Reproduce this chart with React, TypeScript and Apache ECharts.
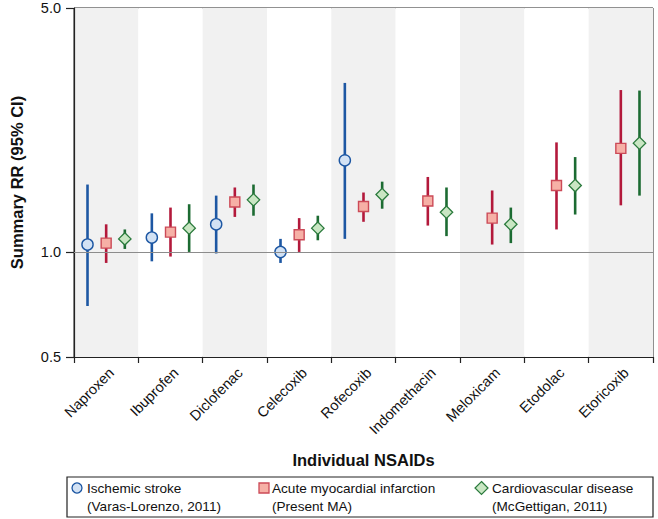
import React, { useEffect, useRef } from "react";
import * as echarts from "echarts";

const categories = ["Naproxen", "Ibuprofen", "Diclofenac", "Celecoxib", "Rofecoxib", "Indomethacin", "Meloxicam", "Etodolac", "Etoricoxib"];
const yTicks = [0.5, 1.0, 5.0];

const strokeRR = [1.05, 1.10, 1.20, 1.00, 1.83, null, null, null, null];
const strokeLow = [0.70, 0.94, 0.99, 0.93, 1.09, null, null, null, null];
const strokeHigh = [1.56, 1.29, 1.45, 1.09, 3.05, null, null, null, null];

const amiRR = [1.06, 1.14, 1.39, 1.12, 1.35, 1.40, 1.25, 1.55, 1.98];
const amiLow = [0.93, 0.97, 1.26, 1.00, 1.22, 1.19, 1.05, 1.16, 1.36];
const amiHigh = [1.20, 1.34, 1.53, 1.25, 1.48, 1.64, 1.50, 2.06, 2.91];

const cvdRR = [1.09, 1.17, 1.41, 1.17, 1.46, 1.30, 1.20, 1.55, 2.05];
const cvdLow = [1.02, 1.00, 1.27, 1.08, 1.33, 1.11, 1.06, 1.28, 1.45];
const cvdHigh = [1.16, 1.37, 1.56, 1.27, 1.59, 1.53, 1.34, 1.87, 2.90];

const FONT = "Liberation Sans, Arial, sans-serif";

type Shape = "circle" | "square" | "diamond";

function buildData(rr: (number | null)[], lo: (number | null)[], hi: (number | null)[]) {
  const out: number[][] = [];
  rr.forEach((v, i) => {
    if (v != null && lo[i] != null && hi[i] != null) out.push([i, v, lo[i] as number, hi[i] as number]);
  });
  return out;
}

function makeSeries(name: string, rr: any[], lo: any[], hi: any[], offset: number, shape: Shape, lineColor: string, fill: string, border: string) {
  return {
    type: "custom",
    name,
    z: 3,
    encode: { x: 0, y: 1 },
    data: buildData(rr, lo, hi),
    renderItem: (params: any, api: any) => {
      const idx = api.value(0);
      const c = api.coord([idx, api.value(1)]);
      const l = api.coord([idx, api.value(2)]);
      const h = api.coord([idx, api.value(3)]);
      const bw = api.size([1, 0])[0];
      const x = c[0] + offset * bw;
      const children: any[] = [
        {
          type: "line",
          shape: { x1: x, y1: l[1], x2: x, y2: h[1] },
          style: { stroke: lineColor, lineWidth: 2.6 },
        },
      ];
      if (shape === "circle") {
        children.push({ type: "circle", shape: { cx: x, cy: c[1], r: 5.6 }, style: { fill, stroke: border, lineWidth: 1.4 } });
      } else if (shape === "square") {
        children.push({ type: "rect", shape: { x: x - 5, y: c[1] - 5, width: 10, height: 10 }, style: { fill, stroke: border, lineWidth: 1.4 } });
      } else {
        const r = 6.2;
        children.push({
          type: "polygon",
          shape: { points: [[x, c[1] - r], [x + r, c[1]], [x, c[1] + r], [x - r, c[1]]] },
          style: { fill, stroke: border, lineWidth: 1.3 },
        });
      }
      return { type: "group", children };
    },
  };
}

export default function App() {
  const ref = useRef<HTMLDivElement>(null);
  useEffect(() => {
    if (!ref.current) return;
    const chart = echarts.init(ref.current, null, { renderer: "svg" });
    const blue = "#1d57a3", red = "#b3193b", green = "#1c6b32";
    const legendY = 488;
    const legendText = { fontFamily: FONT, fontSize: 13.6, fill: "#111", lineHeight: 18 };
    chart.setOption({
      animation: false,
      backgroundColor: "#ffffff",
      grid: { left: 67, right: 5, top: 8, bottom: 162, show: true, borderColor: "#222", borderWidth: 1, backgroundColor: "transparent" },
      xAxis: {
        type: "category",
        data: categories,
        boundaryGap: true,
        axisLine: { lineStyle: { color: "#222", width: 1.2 } },
        axisTick: { show: true, length: 6, lineStyle: { color: "#222", width: 1.2 } },
        axisLabel: { rotate: 45, fontFamily: FONT, fontSize: 14.5, color: "#111", margin: 8, interval: 0, verticalAlign: "top" },
        splitArea: { show: true, areaStyle: { color: ["#f1f1f1", "#ffffff"] } },
        name: "Individual NSAIDs",
        nameLocation: "middle",
        nameGap: 94,
        nameTextStyle: { fontFamily: FONT, fontSize: 16.5, fontWeight: "bold", color: "#111" },
      },
      yAxis: {
        type: "log",
        logBase: 10,
        min: 0.5,
        max: 5,
        axisLine: { show: true, lineStyle: { color: "#222", width: 1.2 } },
        axisTick: { show: true, length: 8, customValues: yTicks, lineStyle: { color: "#222", width: 1.2 } },
        axisLabel: {
          fontFamily: FONT, fontSize: 14.5, color: "#111", margin: 13,
          customValues: yTicks,
          formatter: (v: number) => Number(v).toFixed(1),
        },
        splitLine: { show: false },
        name: "Summary RR (95% CI)",
        nameLocation: "middle",
        nameGap: 49,
        nameTextStyle: { fontFamily: FONT, fontSize: 16.5, fontWeight: "bold", color: "#111" },
      },
      series: [
        {
          type: "line",
          z: 1,
          data: [],
          markLine: {
            silent: true,
            symbol: "none",
            label: { show: false },
            lineStyle: { color: "#8c8c8c", width: 1.2, type: "solid" },
            data: [{ yAxis: 1 }],
          },
        },
        makeSeries("Ischemic stroke", strokeRR, strokeLow, strokeHigh, -0.29, "circle", blue, "#d3e2f4", blue),
        makeSeries("Acute myocardial infarction", amiRR, amiLow, amiHigh, 0, "square", red, "#f6b0a6", "#cc4a57"),
        makeSeries("Cardiovascular disease", cvdRR, cvdLow, cvdHigh, 0.29, "diamond", green, "#c9e6c3", "#2a7a3c"),
      ],
      graphic: [
        { type: "rect", shape: { x: 67, y: 477, width: 586, height: 40 }, style: { fill: "#fff", stroke: "#222", lineWidth: 1.2 } },
        { type: "circle", shape: { cx: 77, cy: legendY, r: 5 }, style: { fill: "#d3e2f4", stroke: blue, lineWidth: 1.3 } },
        { type: "text", x: 87, y: legendY - 9, style: { ...legendText, text: "Ischemic stroke\n(Varas-Lorenzo, 2011)" } },
        { type: "rect", shape: { x: 259, y: legendY - 5, width: 10, height: 10 }, style: { fill: "#f6b0a6", stroke: "#cc4a57", lineWidth: 1.3 } },
        { type: "text", x: 272, y: legendY - 9, style: { ...legendText, text: "Acute myocardial infarction\n(Present MA)" } },
        { type: "polygon", shape: { points: [[481.5, legendY - 6.5], [488, legendY], [481.5, legendY + 6.5], [475, legendY]] }, style: { fill: "#c9e6c3", stroke: "#2a7a3c", lineWidth: 1.2 } },
        { type: "text", x: 492, y: legendY - 9, style: { ...legendText, text: "Cardiovascular disease\n(McGettigan, 2011)" } },
      ],
    });
    return () => chart.dispose();
  }, []);
  return <div ref={ref} style={{ width: 658, height: 519, position: "absolute", left: 0, top: 0 }} />;
}
